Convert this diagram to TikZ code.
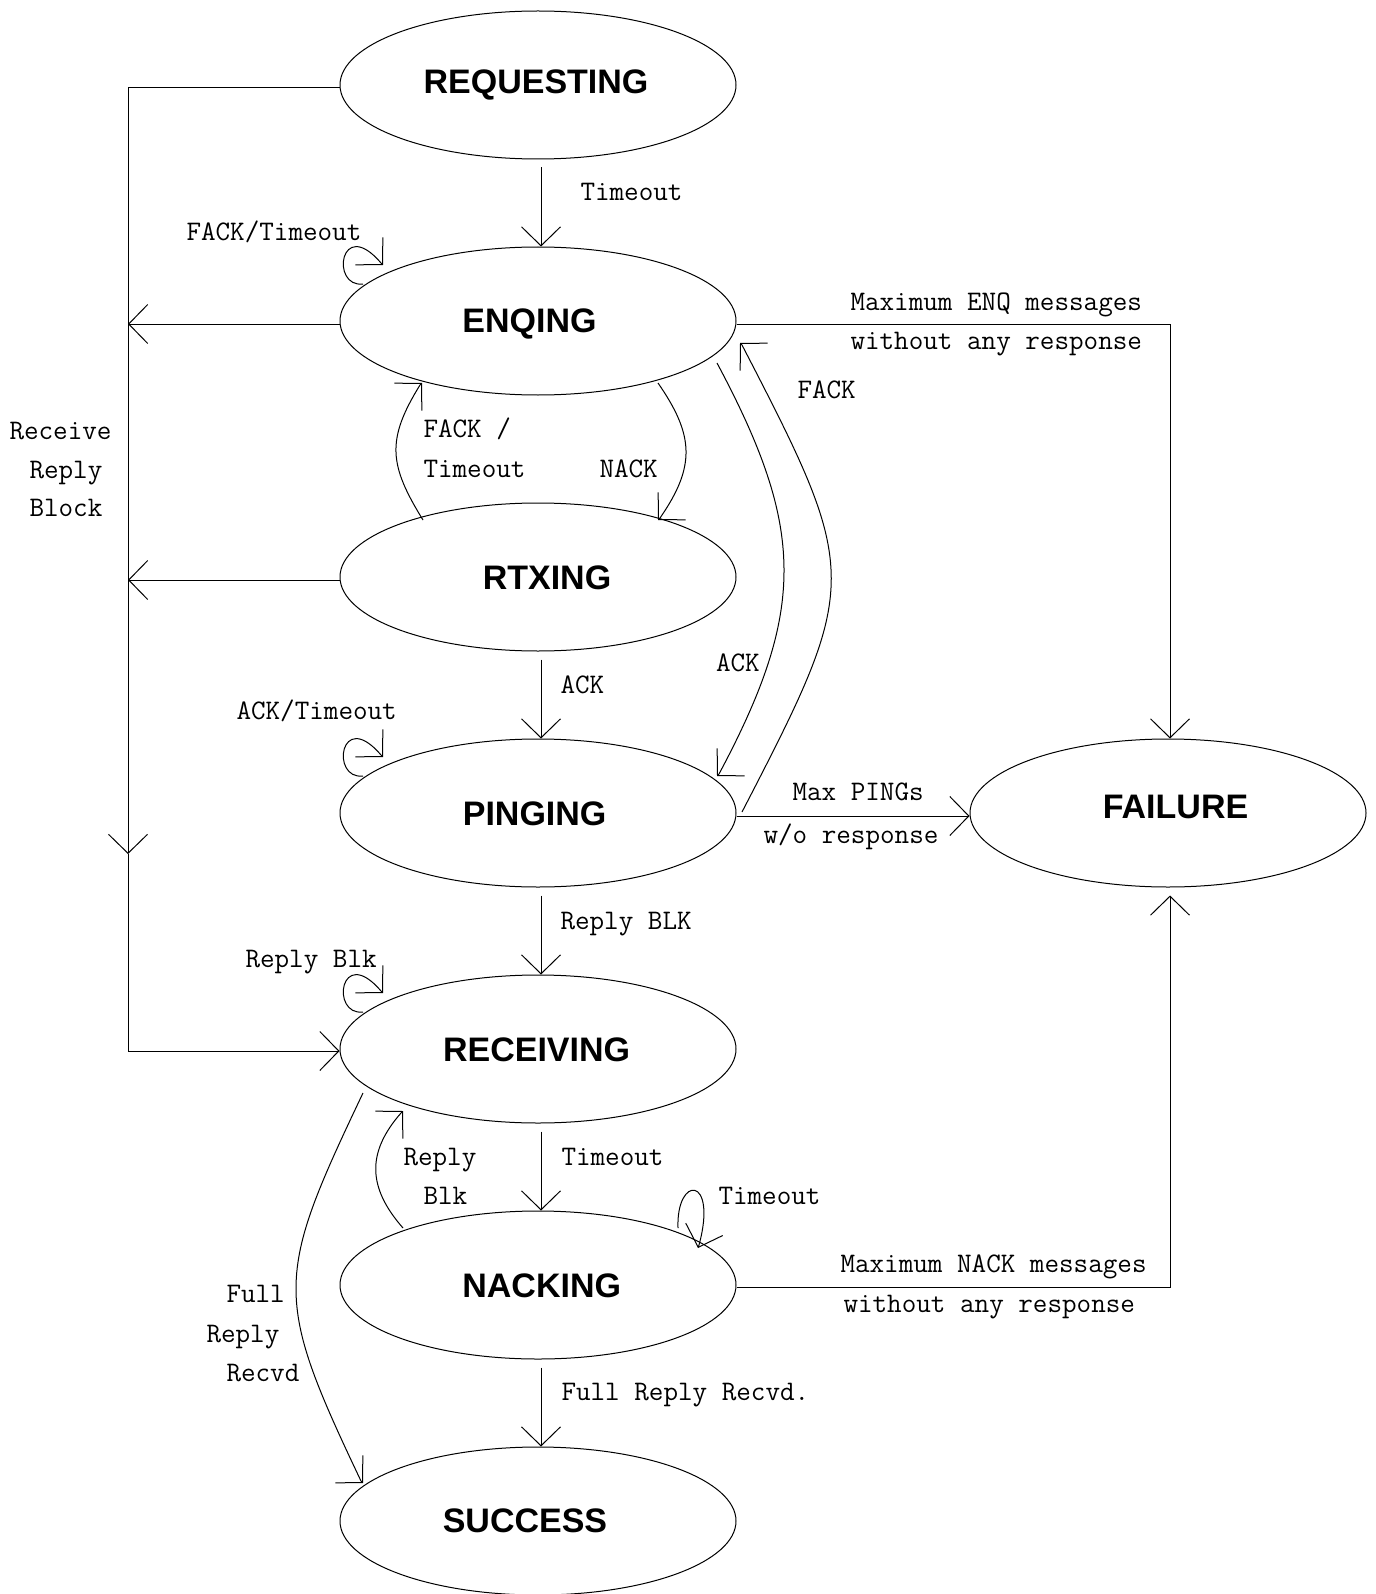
\documentclass[tikz,border=0pt]{standalone}
\usepackage{fontspec}
\setsansfont{Liberation Sans}
\usetikzlibrary{arrows.meta,shapes.geometric,calc}

\begin{document}
\begin{tikzpicture}[x=1pt,y=-1pt,line width=1pt,
  state/.style={draw, ellipse, minimum width=396pt, minimum height=148pt, inner sep=0pt},
  title/.style={font=\sffamily\bfseries\fontsize{34}{40}\selectfont, anchor=base, inner sep=0pt},
  lbl/.style={font=\ttfamily\fontsize{28.3}{32}\selectfont, anchor=base west, inner sep=0pt},
  arr/.style={-{Straight Barb[length=19pt,width=39pt]}},
]
\useasboundingbox[fill=white] (0,0) rectangle (1375,1594);

% states
\node[state] (req)  at (538,85)   {};
\node[state] (enq)  at (538,321)  {};
\node[state] (rtx)  at (538,577)  {};
\node[state] (ping) at (538,813)  {};
\node[state] (recv) at (538,1049) {};
\node[state] (nack) at (538,1285) {};
\node[state] (succ) at (538,1521) {};
\node[state] (fail) at (1168,813) {};

\node[title] (reqT)  at (536,94)     {REQUESTING};
\node[title] (enqT)  at (529.5,332)  {ENQING};
\node[title] (rtxT)  at (547,589)    {RTXING};
\node[title] (pingT) at (534.6,825)  {PINGING};
\node[title] (recvT) at (536.6,1061) {RECEIVING};
\node[title] (nackT) at (541.7,1297) {NACKING};
\node[title] (succT) at (525,1532)   {SUCCESS};
\node[title] (failT) at (1175.5,818) {FAILURE};

% main column
\draw[arr] ([xshift=3pt,yshift=-8pt]req.south)  -- ([xshift=3pt]enq.north);
\draw[arr] ([xshift=3pt,yshift=-8pt]rtx.south)  -- ([xshift=3pt]ping.north);
\draw[arr] ([xshift=3pt,yshift=-8pt]ping.south) -- ([xshift=3pt]recv.north);
\draw[arr] ([xshift=3pt,yshift=-8pt]recv.south) -- ([xshift=3pt]nack.north);
\draw[arr] ([xshift=3pt,yshift=-8pt]nack.south) -- ([xshift=3pt]succ.north);

% reply-block bus on the left
\coordinate (busTurn) at (128,854);
\coordinate (busE) at (128,324);
\coordinate (busR) at (128,580);
\draw[arr] ([yshift=-3pt]req.west) -| (busTurn);
\draw[arr] (busTurn) |- ([yshift=-2pt]recv.west);
\draw[arr] ([yshift=-3pt]enq.west) -- (busE);
\draw[arr] ([yshift=-3pt]rtx.west) -- (busR);

% failure paths
\draw[arr] ([yshift=-3pt]enq.east) -| ([xshift=2pt]fail.north);
\draw[arr] ([yshift=-2pt]nack.east) -| ([xshift=2pt,yshift=-8pt]fail.south);
\draw[arr] ([yshift=-3pt]ping.east) -- ([yshift=-3pt]fail.west);

% curved transitions
\draw[arr] ($(rtx.center)+(-115,-57)$) .. controls +(-34,-55) and +(-34,55) .. ($(enq.center)+(-118,64)$) -- ($(enq.center)+(-116,62)$);
\draw[arr] ($(enq.center)+(120,62)$) .. controls +(36,52) and +(36,-52) .. ($(rtx.center)+(122,-59)$) -- ($(rtx.center)+(120,-57)$);
\draw[arr] ($(ping.center)+(204,-1)$) .. controls +(119,-230) and +(119,230) .. ($(enq.center)+(204,24)$) -- ($(enq.center)+(202,22)$);
\draw[arr] ($(enq.center)+(179,42)$) .. controls +(88,165) and +(88,-165) .. ($(ping.center)+(181,-39)$) -- ($(ping.center)+(179,-37)$);
\draw[arr] ($(nack.center)+(-135,-57)$) .. controls +(-35,-40) and +(-35,40) .. ($(recv.center)+(-137,64)$) -- ($(recv.center)+(-135,62)$);
\draw[arr] ($(recv.center)+(-175,44)$) .. controls +(-88,185) and +(-88,-185) .. ($(succ.center)+(-177,-40)$) -- ($(succ.center)+(-175,-38)$);

% self loops
\foreach \s in {enq,ping,recv}
  \draw[arr] ($(\s.center)+(-175,-37)$) .. controls +(-33,4) and +(-41,-48) .. ($(\s.center)+(-157,-58)$) -- ($(\s.center)+(-155,-56)$);
\draw[arr] ($(nack.center)+(140,-57)$) .. controls +(-2,-53) and +(19,-70) .. ($(nack.center)+(161,-40)$) -- ($(nack.center)+(160,-37)$);

% transition labels
\node[lbl] (l1)  at (580,201)   {Timeout};
\node[lbl] (l2)  at (186,241)   {FACK/Timeout};
\node[lbl] (l3)  at (850,311)   {Maximum ENQ messages};
\node[lbl] (l4)  at (850,349)   {without any response};
\node[lbl] (l5)  at (797,398)   {FACK};
\node[lbl] (l6)  at (9,439)     {Receive};
\node[lbl] (l7)  at (29,478)    {Reply};
\node[lbl] (l8)  at (29,516)    {Block};
\node[lbl] (l9)  at (423,437)   {FACK /};
\node[lbl] (l10) at (423,477)   {Timeout};
\node[lbl] (l11) at (599,477)   {NACK};
\node[lbl] (l12) at (715.5,671) {ACK};
\node[lbl] (l13) at (560,693)   {ACK};
\node[lbl] (l14) at (236,719)   {ACK/Timeout};
\node[lbl] (l15) at (792,800)   {Max PINGs};
\node[lbl] (l16) at (763,843)   {w/o response};
\node[lbl] (l17) at (560,929)   {Reply BLK};
\node[lbl] (l18) at (245,967)   {Reply Blk};
\node[lbl] (l19) at (403,1165)  {Reply};
\node[lbl] (l20) at (423,1204)  {Blk};
\node[lbl] (l21) at (561,1165)  {Timeout};
\node[lbl] (l22) at (718,1204)  {Timeout};
\node[lbl] (l23) at (840,1272)  {Maximum NACK messages};
\node[lbl] (l24) at (843,1312)  {without any response};
\node[lbl] (l25) at (561,1400)  {Full Reply Recvd.};
\node[lbl] (l26) at (226,1302)  {Full};
\node[lbl] (l27) at (206,1342)  {Reply};
\node[lbl] (l28) at (226,1381)  {Recvd};
\end{tikzpicture}
\end{document}
